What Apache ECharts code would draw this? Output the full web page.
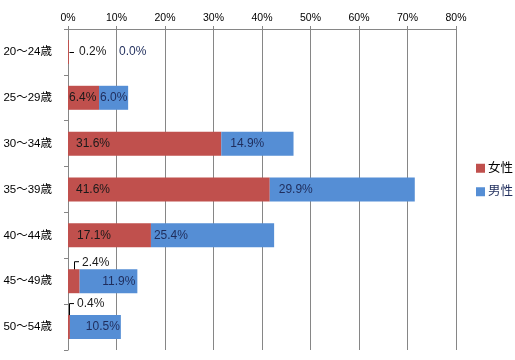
<!DOCTYPE html>
<html><head><meta charset="utf-8">
<script src="https://cdn.jsdelivr.net/npm/echarts@6/dist/echarts.min.js"></script>
<style>html,body{margin:0;padding:0;background:#fff}#c{width:515px;height:360px}</style>
</head><body><div id="c"></div>
<script>
var categories = ['20～24歳','25～29歳','30～34歳','35～39歳','40～44歳','45～49歳','50～54歳'];
var female = [0.2, 6.4, 31.6, 41.6, 17.1, 2.4, 0.4];
var male = [0.0, 6.0, 14.9, 29.9, 25.4, 11.9, 10.5];
var xTicks = [0, 10, 20, 30, 40, 50, 60, 70, 80];

var FONT = '"Liberation Sans", Arial, "Noto Sans CJK JP", sans-serif';
var femaleLabelCfg = [
  {position:'right', distance:10, offset:[0,0]},
  {position:'insideLeft', distance:1, offset:[0,0]},
  {position:'insideLeft', distance:8, offset:[0,0]},
  {position:'insideLeft', distance:8, offset:[0,0]},
  {position:'insideLeft', distance:9, offset:[0,0]},
  {position:'insideLeft', distance:5, offset:[9,-19]},
  {position:'insideLeft', distance:5, offset:[4,-23]}
];
var maleLabelCfg = [
  {position:'insideLeft', distance:5, offset:[45,0]},
  {position:'insideLeft', distance:1, offset:[0,0]},
  {position:'insideLeft', distance:9, offset:[0,0]},
  {position:'insideLeft', distance:9, offset:[0,0]},
  {position:'insideLeft', distance:3, offset:[0,0]},
  {position:'insideRight', distance:2, offset:[0,0]},
  {position:'insideRight', distance:1, offset:[0,0]}
];
function mk(vals, cfg){
  return vals.map(function(v,i){ return {value:v, label:cfg[i]}; });
}
var chart = echarts.init(document.getElementById('c'));
chart.setOption({
  animation:false,
  textStyle:{fontFamily:FONT},
  grid:{left:68, right:59, top:29, bottom:10, containLabel:false},
  legend:{
    orient:'vertical', left:471, top:157, itemWidth:9, itemHeight:9, itemGap:11,
    icon:'rect',
    data:[{name:'女性', textStyle:{color:'#000'}},{name:'男性', textStyle:{color:'#1f2d5c'}}],
    textStyle:{fontSize:12.5, fontFamily:FONT, padding:[0,0,0,-2]}
  },
  xAxis:{
    type:'value', position:'top', min:xTicks[0], max:xTicks[xTicks.length-1], interval:10,
    axisLine:{show:true, lineStyle:{color:'#868686'}},
    axisTick:{show:true, length:3, lineStyle:{color:'#868686'}},
    splitLine:{show:true, lineStyle:{color:'#868686', width:1}},
    axisLabel:{formatter:'{value}%', fontSize:10.5, color:'#000', margin:6, fontFamily:FONT}
  },
  yAxis:{
    type:'category', inverse:true, data:categories,
    axisLine:{show:true, lineStyle:{color:'#868686'}},
    axisTick:{show:true, length:4, lineStyle:{color:'#868686'}},
    axisLabel:{fontSize:11.5, color:'#000', margin:16, fontFamily:FONT}
  },
  series:[
    {name:'女性', type:'bar', stack:'s', barWidth:24, data:mk(female, femaleLabelCfg),
     itemStyle:{color:'#C0504D'},
     label:{show:true, formatter:function(p){return p.value.toFixed(1)+'%';}, color:'#1a1a1a', fontSize:12, fontFamily:FONT}},
    {name:'男性', type:'bar', stack:'s', barWidth:24, data:mk(male, maleLabelCfg),
     itemStyle:{color:'#558ED5'},
     label:{show:true, formatter:function(p){return p.value.toFixed(1)+'%';}, color:'#1f2d5c', fontSize:12, fontFamily:FONT}}
  ]
});
// leader lines for small female values
function ctr(i){ return chart.convertToPixel({xAxisIndex:0,yAxisIndex:0},[female[i]/2, i]); }
var p0 = chart.convertToPixel({xAxisIndex:0,yAxisIndex:0},[female[0], 0]);
var p5 = ctr(5), p6 = ctr(6);
var ls = {stroke:'#000', lineWidth:1};
chart.setOption({graphic:[
  {type:'polyline', shape:{points:[[p0[0]+0.5, Math.round(p0[1])+0.5],[p0[0]+5, Math.round(p0[1])+0.5]]}, style:ls, silent:true},
  {type:'polyline', shape:{points:[[Math.round(p5[0])+0.5, p5[1]-4],[Math.round(p5[0])+0.5, p5[1]-19.5],[Math.round(p5[0])+5, p5[1]-19.5]]}, style:ls, silent:true},
  {type:'polyline', shape:{points:[[Math.round(p6[0])+0.5, p6[1]-11],[Math.round(p6[0])+0.5, p6[1]-23.5],[Math.round(p6[0])+5, p6[1]-23.5]]}, style:ls, silent:true}
]});
</script></body></html>
